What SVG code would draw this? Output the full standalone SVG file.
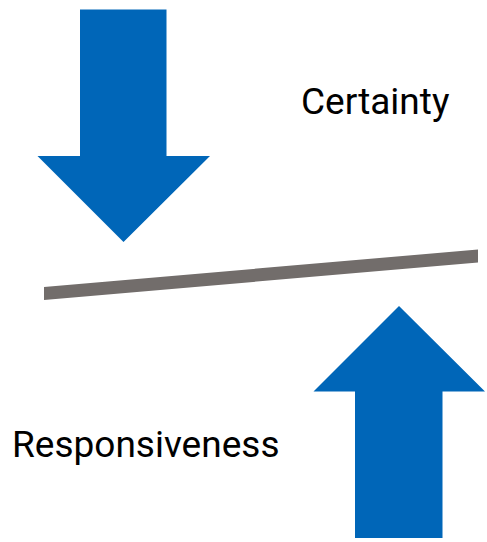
<svg xmlns="http://www.w3.org/2000/svg" width="487" height="542" viewBox="0 0 487 542">
<style>
.arrow{fill:#0066b8}
.beam{fill:#726d6b}
.lbl{font-family:Roboto,"Liberation Sans",sans-serif;font-size:37px;fill:#000}
</style>
<rect width="487" height="542" fill="#fff"/>
<g id="down-arrow"><polygon class="arrow" points="80,9.5 166.5,9.5 166.5,156 210,156 123.5,242 37.5,156 80,156"/></g>
<g id="up-arrow"><polygon class="arrow" points="399,306 485,391.5 442.5,391.5 442.5,538 355,538 355,391.5 313.5,391.5"/></g>
<g id="beam"><polygon class="beam" points="44,287 478,249.5 478,262.5 44,300"/></g>
<g id="certainty"><text class="lbl" x="301" y="113.5">Certainty</text></g>
<g id="responsiveness"><text class="lbl" x="12" y="457">Responsiveness</text></g>
</svg>
